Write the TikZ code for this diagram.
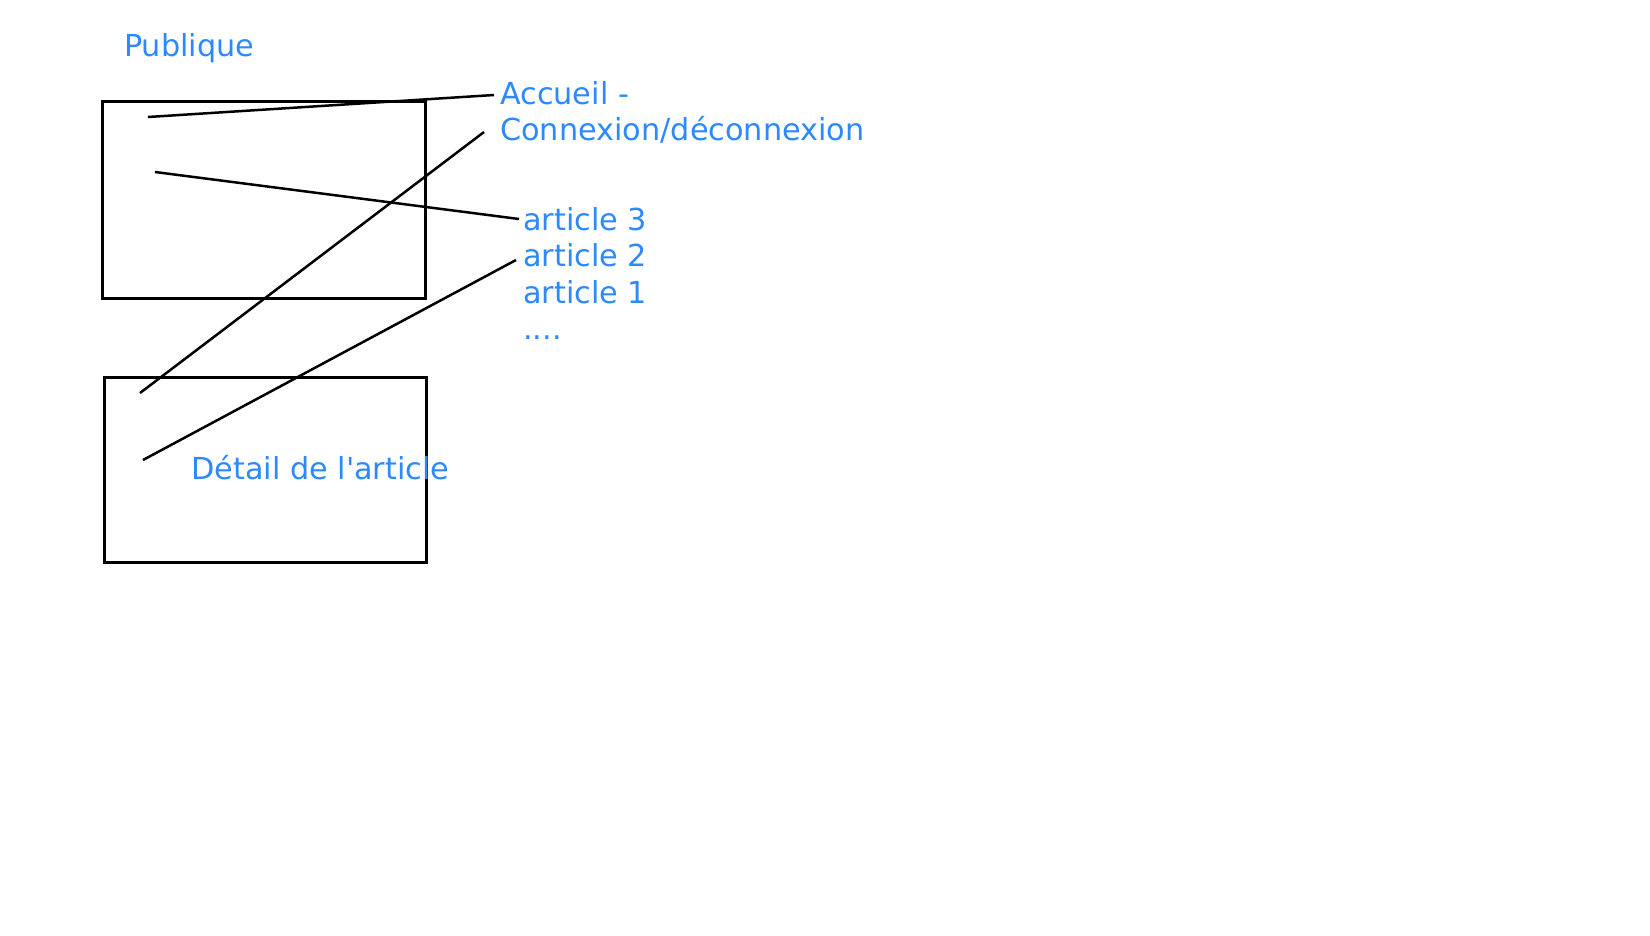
\documentclass[tikz,border=0pt]{standalone}
\usepackage{fontspec}
\newfontfamily\lblfont{DejaVu Sans}
\definecolor{lbl}{RGB}{45,137,255}
\begin{document}
\begin{tikzpicture}[x=1pt,y=-1pt,
  lab/.style={text=lbl,font=\lblfont\fontsize{30.3}{36.5}\selectfont,inner sep=0pt,align=left,anchor=base west},
  frame/.style={draw=black,line width=2.5pt},
  conn/.style={draw=black,line width=2.5pt}]
\useasboundingbox (0,0) rectangle (1650,935);
\node[frame,minimum width=323pt,minimum height=197pt,inner sep=0pt,anchor=north west] (p1) at (101,100) {};
\node[frame,minimum width=322pt,minimum height=185pt,inner sep=0pt,anchor=north west] (p2) at (103,376) {};
\node[lab] (pub) at (124,56) {Publique};
\node[lab] (acc) at (500,140.5) {Accueil -\\Connexion/déconnexion};
\node[lab] (art) at (523,339.5) {article 3\\article 2\\article 1\\....};
\node[lab] (det) at (191,479) {Détail de l'article};
\coordinate (a1) at (148,117);
\coordinate (a2) at (494,95);
\coordinate (b1) at (155,172);
\coordinate (b2) at (519,219);
\coordinate (c1) at (140,393);
\coordinate (c2) at (484,132);
\coordinate (d1) at (143,460);
\coordinate (d2) at (516,260);
\draw[conn] (a1) -- (a2);
\draw[conn] (b1) -- (b2);
\draw[conn] (c1) -- (c2);
\draw[conn] (d1) -- (d2);
\end{tikzpicture}
\end{document}
